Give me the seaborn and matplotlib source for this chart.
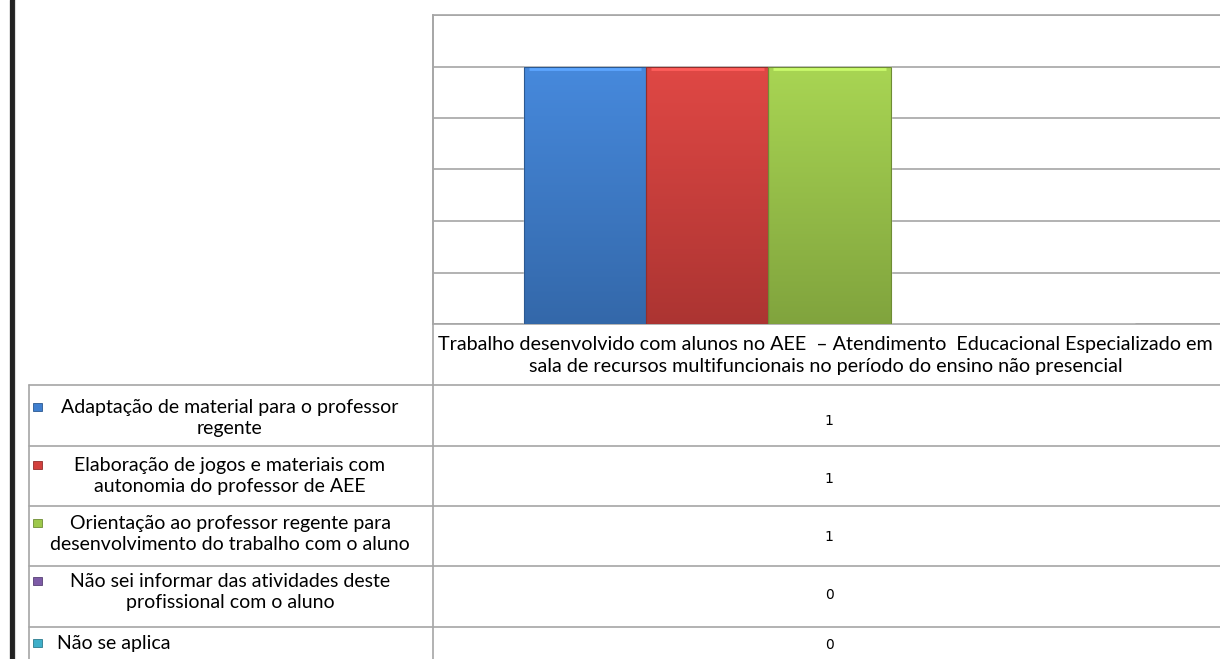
#!/usr/bin/env python3
"""
Excel-style column chart with data table - seaborn
Usage: python plot.py
"""

import matplotlib.pyplot as plt
import matplotlib.colors as mcolors
import matplotlib.transforms as mtransforms
from matplotlib.lines import Line2D
from matplotlib.patches import Rectangle
import seaborn as sns
import pandas as pd
import numpy as np

# Data
category = ["Trabalho desenvolvido com alunos no AEE  – Atendimento  Educacional Especializado em\n"
            "sala de recursos multifuncionais no período do ensino não presencial"]
series = [
    "Adaptação de material para o professor\nregente",
    "Elaboração de jogos e materiais com\nautonomia do professor de AEE",
    "Orientação ao professor regente para\ndesenvolvimento do trabalho com o aluno",
    "Não sei informar das atividades deste\nprofissional com o aluno",
    "Não se aplica",
]
values = [1, 1, 1, 0, 0]
colors = ["#3F7FCF", "#D2403D", "#9DC84B", "#7D5BA6", "#3FAFC9"]

sns.set_theme(style="white")
plt.rcParams['font.family'] = ['Lato', 'DejaVu Sans']

W, H = 1220, 659
fig = plt.figure(figsize=(W / 100, H / 100), dpi=100)

# plot area in pixel coordinates
left, top, right, bottom = 433, 15, 1226, 324
ax = fig.add_axes([left / W, 1 - bottom / H, (right - left) / W, (bottom - top) / H])

df = pd.DataFrame({'cat': category * len(series), 'series': series, 'value': values})
sns.barplot(data=df, x='cat', y='value', hue='series', palette=colors,
            width=0.77, gap=0, ax=ax, legend=False, zorder=3)

ax.set_xlim(-0.5, 0.5)
ax.set_ylim(0, 1.2)
ax.set_yticks(np.arange(0, 1.21, 0.2))
ax.set_yticklabels([])
ax.set_xticks([])
ax.set_xlabel('')
ax.set_ylabel('')
ax.yaxis.grid(True, color='#A6A6A6', linewidth=1.2)
ax.set_axisbelow(True)
for side in ['top', 'left', 'bottom']:
    ax.spines[side].set_color('#A6A6A6')
    ax.spines[side].set_linewidth(1.2)
ax.spines['right'].set_visible(False)

# gradient fill on bars (Excel style): lighter at top, darker at bottom
for patch, c in zip(ax.patches, colors):
    x0, y0 = patch.get_x(), patch.get_y()
    w, h = patch.get_width(), patch.get_height()
    if h <= 0:
        continue
    base = np.array(mcolors.to_rgb(c))
    light = np.clip(base * 1.04 + 0.02, 0, 1)
    dark = base * 0.82
    t = np.linspace(0, 1, 64)[:, None]
    grad = light * (1 - t[..., None]) + dark * t[..., None]
    grad = np.repeat(grad, 8, axis=1)
    im = ax.imshow(grad, extent=(x0, x0 + w, y0, y0 + h), aspect='auto',
                   zorder=4, interpolation='bilinear', origin='upper')
    im.set_clip_path(patch)
    edge = mcolors.to_hex(base * 0.7)
    ax.add_patch(Rectangle((x0, y0), w, h, fill=False, edgecolor=edge, lw=0.8, zorder=5))
    # light bevel along the top edge
    ax.plot([x0 + w * 0.04, x0 + w * 0.96], [y0 + h - 0.008, y0 + h - 0.008],
            color=mcolors.to_hex(np.clip(base * 1.15 + 0.08, 0, 1)), lw=2, zorder=6,
            solid_capstyle='butt')
ax.set_xlim(-0.5, 0.5)
ax.set_ylim(0, 1.2)

# category label below the plot area
trans = mtransforms.blended_transform_factory(ax.transData, ax.transAxes)
ax.text(-0.005, -0.102, category[0], transform=trans, ha='center', va='center',
        fontsize=14.2, linespacing=1.38, color='black', clip_on=False)

# overlay for the data table, pixel coordinates
ov = fig.add_axes([0, 0, 1, 1])
ov.set_xlim(0, W)
ov.set_ylim(H, 0)
ov.axis('off')
ov.patch.set_alpha(0)

grey = '#A6A6A6'
row_lines = [385, 446, 506, 566, 627]
for y in row_lines:
    ov.add_line(Line2D([29, W], [y, y], color=grey, lw=1.2))
ov.add_line(Line2D([29, 29], [385, H], color=grey, lw=1.2))
ov.add_line(Line2D([433, 433], [15, H], color=grey, lw=1.2))

# black frame line at far left
ov.add_line(Line2D([11.5, 11.5], [0, H], color='#222222', lw=3.8))
ov.add_line(Line2D([15, 15], [0, H], color='#DDDDDD', lw=0.8))

first_line_y = [407, 465, 523, 581, 643]
for name, val, c, y1 in zip(series, values, colors, first_line_y):
    ov.add_patch(Rectangle((33, y1 - 4.5), 8.5, 8.5, facecolor=c,
                           edgecolor=mcolors.to_hex(np.array(mcolors.to_rgb(c)) * 0.7), lw=0.6))
    if '\n' in name:
        ov.text(230, y1 + 11, name, ha='center', va='center', multialignment='center',
                fontsize=14, linespacing=1.27, color='black')
    else:
        ov.text(57, y1, name, ha='left', va='center', fontsize=14, color='black')
    row_mid = y1 + 12 if '\n' in name else y1
    ov.text(829, row_mid + 2, str(val), ha='center', va='center',
            fontsize=10, color='black', family='DejaVu Sans')

plt.savefig('out.png', dpi=100)
print("✓ Saved: out.png")
